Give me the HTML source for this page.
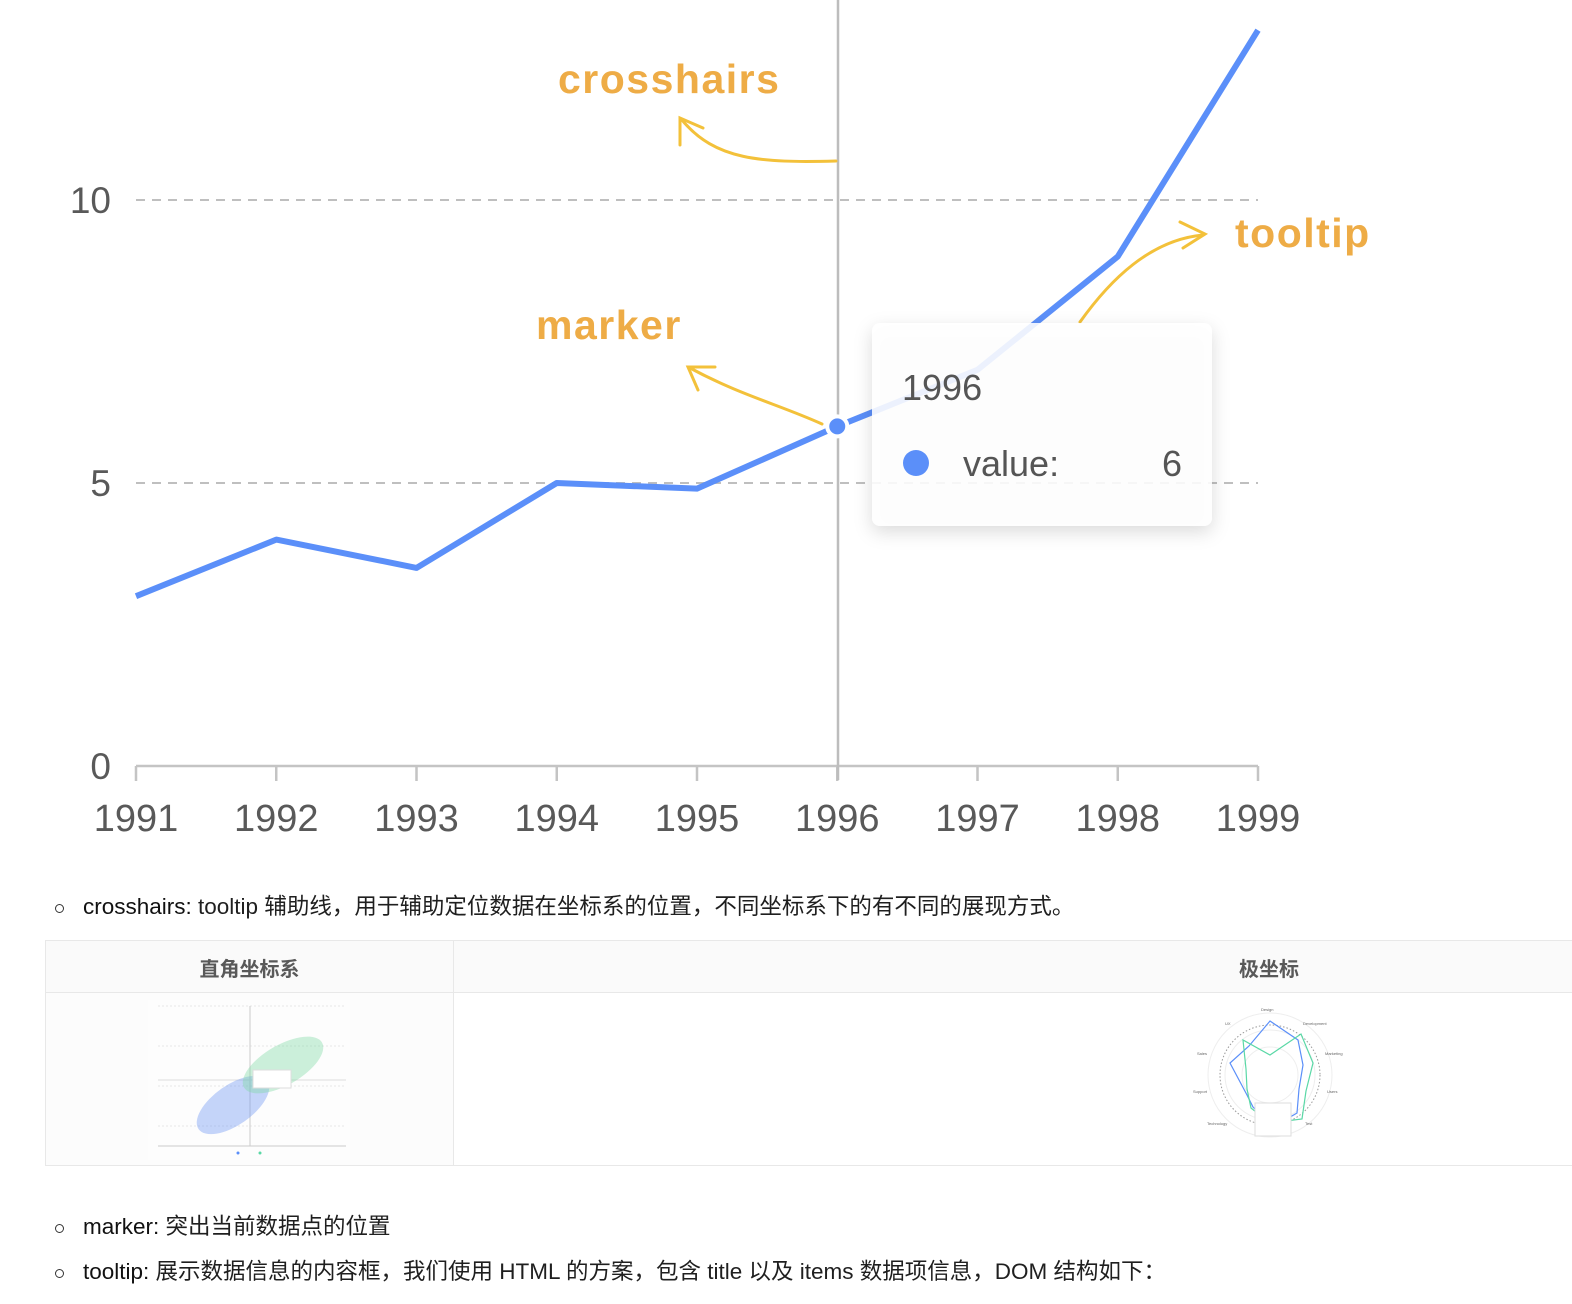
<!DOCTYPE html>
<html><head><meta charset="utf-8">
<style>
body{margin:0;width:1572px;height:1304px;background:#fff;overflow:hidden;position:relative;font-family:"Liberation Sans","Noto Sans CJK SC",sans-serif;}
.li{position:absolute;left:83px;font-size:22.5px;color:#1f1f1f;line-height:30px;white-space:nowrap;}
.li b{font-weight:normal;color:#111}
.bul{position:absolute;left:55px;width:7px;height:7px;border:1.5px solid #333;border-radius:50%;}
</style></head><body>
<svg id="chart" width="1572" height="880" style="position:absolute;left:0;top:0">
<defs><filter id="sh" x="-20%" y="-20%" width="140%" height="150%"><feDropShadow dx="0" dy="6" stdDeviation="9" flood-color="#000" flood-opacity="0.16"/></filter></defs>
<g id="grid"></g><g id="axis"></g>
<line x1="838" y1="0" x2="838" y2="780" stroke="#bdbdbd" stroke-width="2.5"/>
<path id="line" fill="none" stroke="#5b8ff9" stroke-width="6" stroke-linejoin="round"/>
<circle id="marker" r="10" fill="#5b8ff9" stroke="#fff" stroke-width="4"/>
<g fill="none" stroke="#f3c13a" stroke-width="3" stroke-linecap="round">
<path d="M836 161 C760 163 715 160 682 120"/><path d="M680 145 L680 118 L703 128"/>
<path d="M822 424 C780 405 740 395 690 368"/><path d="M698 390 L688 367 L715 367"/>
<path d="M1080 322 C1110 280 1150 240 1203 235"/><path d="M1180 222 L1205 234 L1183 248"/>
</g>
<g font-size="41" fill="#eeac46" font-weight="bold" letter-spacing="1.5">
<text x="558" y="93">crosshairs</text>
<text x="536" y="339">marker</text>
<text x="1235" y="247">tooltip</text>
</g>
<g>
<rect x="872" y="323" width="340" height="203" rx="8" fill="#fff" fill-opacity="0.88" filter="url(#sh)"/>
<text x="902" y="400" font-size="36" fill="#555">1996</text>
<circle cx="916" cy="463" r="13" fill="#5b8ff9"/>
<text x="963" y="476" font-size="36" fill="#555">value:</text>
<text x="1182" y="476" font-size="36" fill="#555" text-anchor="end">6</text>
</g>
</svg>
<script>
const categories=["1991","1992","1993","1994","1995","1996","1997","1998","1999"];
const values=[3,4,3.5,5,4.9,6,7,9,13];
const yTicks=[0,5,10];
const ns="http://www.w3.org/2000/svg";
function xs(i){return 136+i*140.25;}
function ys(v){return 766-v*56.6;}
const grid=document.getElementById('grid'),axis=document.getElementById('axis');
yTicks.forEach(t=>{
 if(t>0){const l=document.createElementNS(ns,'line');
 
 
 l.setAttribute('x1',136);l.setAttribute('x2',1258);l.setAttribute('y1',ys(t));l.setAttribute('y2',ys(t));
 l.setAttribute('stroke','#bfbfbf');l.setAttribute('stroke-width','2');l.setAttribute('stroke-dasharray','9 7');grid.appendChild(l);}
 const tx=document.createElementNS(ns,'text');
 
 
 tx.setAttribute('x',111);tx.setAttribute('y',ys(t)+13);tx.setAttribute('text-anchor','end');tx.setAttribute('font-size','37');tx.setAttribute('fill','#595959');tx.textContent=t;axis.appendChild(tx);
});
const ax=document.createElementNS(ns,'path');


let d='M'+xs(0)+' 766 L'+xs(categories.length-1)+' 766';
categories.forEach((c,i)=>{d+=' M'+xs(i)+' 766 L'+xs(i)+' 781';});
ax.setAttribute('d',d);ax.setAttribute('stroke','#c4c4c4');ax.setAttribute('stroke-width','2.5');ax.setAttribute('fill','none');axis.appendChild(ax);
categories.forEach((c,i)=>{const tx=document.createElementNS(ns,'text');
 
 
 tx.setAttribute('x',xs(i));tx.setAttribute('y',831);tx.setAttribute('text-anchor','middle');tx.setAttribute('font-size','38');tx.setAttribute('fill','#595959');tx.textContent=c;axis.appendChild(tx);});
document.getElementById('line').setAttribute('d',values.map((v,i)=>(i?'L':'M')+xs(i)+' '+ys(v)).join(' '));
const m=document.getElementById('marker');m.setAttribute('cx',xs(5));m.setAttribute('cy',ys(values[5]));
</script>

<div class="bul" style="top:904px"></div>
<div class="li" style="top:892px"><b>crosshairs:</b> tooltip 辅助线，用于辅助定位数据在坐标系的位置，不同坐标系下的有不同的展现方式。</div>

<div style="position:absolute;left:45px;top:940px;width:1540px;height:224px;border:1px solid #e8e8e8;">
 <div style="position:absolute;left:0;top:0;width:100%;height:51px;background:#fafafa;border-bottom:1px solid #e8e8e8;"></div>
 <div style="position:absolute;left:407px;top:0;width:1px;height:100%;background:#e8e8e8"></div>
 <div style="position:absolute;left:0;width:407px;top:12px;text-align:center;font-size:20px;font-weight:bold;color:#595959">直角坐标系</div>
 <div style="position:absolute;left:408px;width:1630px;top:12px;text-align:center;font-size:20px;font-weight:bold;color:#595959">极坐标</div>
 <div style="position:absolute;left:0;top:52px;width:407px;height:172px;background:#fcfcfc"></div>
</div>

<svg width="202" height="160" style="position:absolute;left:148px;top:1000px">
<rect width="202" height="160" fill="#fdfdfd"/>
<g stroke="#e6e6e6" stroke-dasharray="2 2"><line x1="10" y1="6" x2="198" y2="6"/><line x1="10" y1="46" x2="198" y2="46"/><line x1="10" y1="86" x2="198" y2="86"/><line x1="10" y1="126" x2="198" y2="126"/></g>
<line x1="10" y1="146" x2="198" y2="146" stroke="#ccc"/>
<line x1="102" y1="6" x2="102" y2="146" stroke="#ccc"/><line x1="10" y1="80" x2="198" y2="80" stroke="#ddd"/>
<ellipse cx="85" cy="105" rx="42" ry="20" fill="#6f95f3" opacity="0.4" transform="rotate(-35 85 105)"/>
<ellipse cx="135" cy="65" rx="45" ry="20" fill="#7fd9a5" opacity="0.4" transform="rotate(-30 135 65)"/>
<rect x="105" y="70" width="38" height="18" fill="#fff" stroke="#ddd"/>
<circle cx="90" cy="153" r="1.5" fill="#5b8ff9"/><circle cx="112" cy="153" r="1.5" fill="#5ad8a6"/>
</svg>

<svg width="170" height="140" style="position:absolute;left:1185px;top:1003px">
<g fill="none" stroke="#eee"><circle cx="85" cy="72" r="62"/><circle cx="85" cy="72" r="45"/><circle cx="85" cy="72" r="28"/></g>
<circle cx="85" cy="72" r="50" fill="none" stroke="#999" stroke-dasharray="1.5 2"/>
<polygon points="85,18 113,37 118,62 114,86 112,110 88,124 68,104 62,92 45,60 64,43" fill="none" stroke="#5b8ff9" stroke-width="1.2"/>
<polygon points="85,52 116,31 128,60 121,88 117,116 85,120 66,105 62,86 61,66 58,37" fill="none" stroke="#5ad8a6" stroke-width="1.2"/>
<rect x="70" y="100" width="36" height="33" fill="#fff" stroke="#ddd"/>
<g font-size="4" fill="#666"><text x="76" y="8">Design</text><text x="118" y="22">Development</text><text x="140" y="52">Marketing</text><text x="142" y="90">Users</text><text x="120" y="122">Test</text><text x="22" y="122">Technology</text><text x="8" y="90">Support</text><text x="12" y="52">Sales</text><text x="40" y="22">UX</text></g>
</svg>

<div class="bul" style="top:1224px"></div>
<div class="li" style="top:1212px"><b>marker:</b> 突出当前数据点的位置</div>
<div class="bul" style="top:1269px"></div>
<div class="li" style="top:1257px"><b>tooltip:</b> 展示数据信息的内容框，我们使用 HTML 的方案，包含 title 以及 items 数据项信息，DOM 结构如下：</div>
</body></html>
